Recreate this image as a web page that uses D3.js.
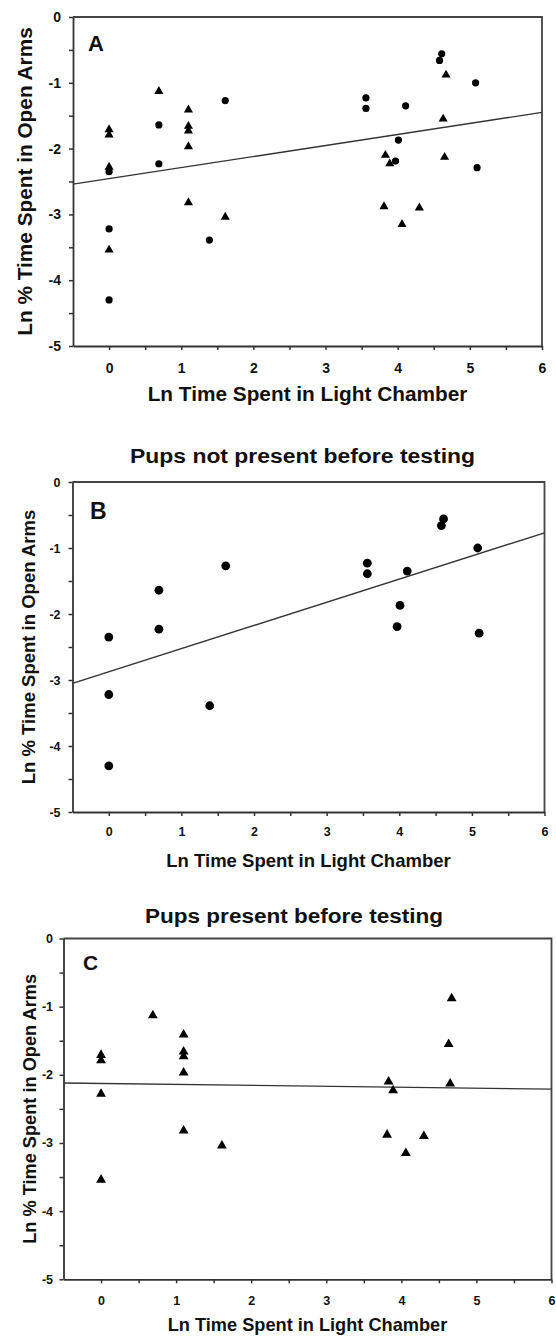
<!DOCTYPE html>
<html lang="en">
    <head>
        <meta charset="utf-8">
        <title>Open arms vs light chamber</title>
        <style>
            body{ margin:0; background:#fff; font-family:"Liberation Sans", Arial, sans-serif;}
            text{ font-weight:bold; fill:#111;}
        </style>
        <script type="text/javascript" src="https://d3js.org/d3.v7.min.js"></script>
    </head>
    <body>
        <div class="plots"></div>
        <script type="text/javascript">
            // ticks shared by all three panels
            var xTicks = [0, 0.5, 1, 1.5, 2, 2.5, 3, 3.5, 4, 4.5, 5, 5.5, 6];
            var yTicks = [0, -0.5, -1, -1.5, -2, -2.5, -3, -3.5, -4, -4.5, -5];

            // circles: pups not present before testing
            var notPresentX = [0, 0, 0, 0.69, 0.69, 1.39, 1.61, 3.56, 3.56, 3.97, 4.01, 4.11, 4.58, 4.61, 5.08, 5.10];
            var notPresentY = [-2.35, -3.22, -4.30, -1.64, -2.23, -3.39, -1.27, -1.23, -1.39, -2.19, -1.87, -1.35, -0.66, -0.56, -1.00, -2.29];

            // triangles: pups present before testing
            var presentX = [0, 0, 0, 0, 0.69, 1.10, 1.10, 1.10, 1.10, 1.10, 1.61, 3.81, 3.83, 3.89, 4.06, 4.30, 4.63, 4.65, 4.67];
            var presentY = [-1.71, -1.79, -2.28, -3.54, -1.13, -1.41, -1.66, -1.73, -1.97, -2.82, -3.04, -2.88, -2.10, -2.23, -3.15, -2.90, -1.55, -2.13, -0.88];

            // fitted lines, read at both ends of the x range
            var fitX = [-0.5, 6];
            var fitAllY = [-2.54, -1.45];
            var fitNotPresentY = [-3.05, -0.77];
            var fitPresentY = [-2.12, -2.21];

            var xLabel = "Ln Time Spent in Light Chamber";
            var yLabel = "Ln % Time Spent in Open Arms";

            var width = 556, height = 1339;
            var svg = d3.select(".plots").append("svg")
                .attr("width", width)
                .attr("height", height);

            var panels = [
                {letter:"A", left:73, right:542, top:17, bottom:346, tickFont:14, labelFont:20.8,
                 padX:13, padY:8, yLabelX:32, xLabelY:401, letterX:88, letterY:51, letterFont:22,
                 circleR:3.6, triSize:36, fit:fitAllY, groups:["circle", "triangle"]},
                {letter:"B", left:72.5, right:544.5, top:482, bottom:812, tickFont:12.5, labelFont:18.5,
                 padX:11.5, padY:8, yLabelX:35, xLabelY:867, letterX:90, letterY:519, letterFont:23,
                 circleR:4.4, triSize:40, fit:fitNotPresentY, groups:["circle"],
                 title:"Pups not present before testing", titleX:302.5, titleY:463, titleW:345},
                {letter:"C", left:63.5, right:551.5, top:938.5, bottom:1279.3, tickFont:12.5, labelFont:18.2,
                 padX:13, padY:6.5, yLabelX:36, xLabelY:1331, letterX:83, letterY:970, letterFont:21,
                 circleR:4, triSize:42, fit:fitPresentY, groups:["triangle"],
                 title:"Pups present before testing", titleX:294, titleY:923, titleW:298}
            ];

            panels.forEach(function(p){
                var g = svg.append("g");
                var x = d3.scaleLinear().domain([-0.5, 6]).range([p.left, p.right]);
                var y = d3.scaleLinear().domain([-5, 0]).range([p.bottom, p.top]);
                var fmt = d => Number.isInteger(d) ? String(d) : "";

                // frame on top and right
                g.append("path")
                    .attr("d", "M" + x(-0.5) + "," + y(0) + "H" + x(6) + "V" + y(-5))
                    .attr("fill", "none")
                    .attr("stroke", "#444")
                    .attr("stroke-width", 1.8);

                var xAxis = g.append("g")
                    .attr("transform", "translate(0," + p.bottom + ")")
                    .call(d3.axisBottom(x).tickValues(xTicks).tickFormat(fmt)
                        .tickSize(4).tickSizeOuter(0).tickPadding(p.padX));
                var yAxis = g.append("g")
                    .attr("transform", "translate(" + p.left + ",0)")
                    .call(d3.axisLeft(y).tickValues(yTicks).tickFormat(fmt)
                        .tickSize(4).tickSizeOuter(0).tickPadding(p.padY));
                [xAxis, yAxis].forEach(function(a){
                    a.select(".domain").attr("stroke", "#333").attr("stroke-width", 1.8);
                    a.selectAll(".tick line").attr("stroke", "#333").attr("stroke-width", 1.5);
                    a.selectAll(".tick text")
                        .attr("font-family", "'Liberation Sans', Arial, sans-serif")
                        .attr("font-weight", "bold")
                        .attr("font-size", p.tickFont)
                        .attr("fill", "#111");
                });

                // regression line
                g.append("line")
                    .attr("x1", x(fitX[0])).attr("y1", y(p.fit[0]))
                    .attr("x2", x(fitX[1])).attr("y2", y(p.fit[1]))
                    .attr("stroke", "#333")
                    .attr("stroke-width", 1.4);

                if (p.groups.includes("circle")) {
                    g.selectAll(".dot")
                        .data(d3.range(notPresentX.length))
                        .enter()
                        .append("circle")
                        .attr("class", "dot")
                        .attr("cx", i => x(notPresentX[i]))
                        .attr("cy", i => y(notPresentY[i]))
                        .attr("r", p.circleR)
                        .attr("fill", "#000");
                }
                if (p.groups.includes("triangle")) {
                    var tri = d3.symbol().type(d3.symbolTriangle).size(p.triSize);
                    g.selectAll(".tri")
                        .data(d3.range(presentX.length))
                        .enter()
                        .append("path")
                        .attr("class", "tri")
                        .attr("d", tri)
                        .attr("transform", i => "translate(" + x(presentX[i]) + "," + y(presentY[i]) + ")")
                        .attr("fill", "#000");
                }

                // panel letter
                g.append("text")
                    .attr("x", p.letterX)
                    .attr("y", p.letterY)
                    .attr("font-size", p.letterFont)
                    .text(p.letter);

                // axis titles
                var cx = (p.left + p.right) / 2;
                var cy = (p.top + p.bottom) / 2;
                g.append("text")
                    .attr("x", cx)
                    .attr("y", p.xLabelY)
                    .attr("text-anchor", "middle")
                    .attr("font-size", p.labelFont)
                    .text(xLabel);
                g.append("text")
                    .attr("transform", "translate(" + p.yLabelX + "," + cy + ") rotate(-90)")
                    .attr("text-anchor", "middle")
                    .attr("font-size", p.labelFont)
                    .text(yLabel);

                if (p.title) {
                    g.append("text")
                        .attr("x", p.titleX)
                        .attr("y", p.titleY)
                        .attr("text-anchor", "middle")
                        .attr("font-size", 20)
                        .attr("textLength", p.titleW)
                        .attr("lengthAdjust", "spacingAndGlyphs")
                        .text(p.title);
                }
            });
        </script>
    </body>
</html>
